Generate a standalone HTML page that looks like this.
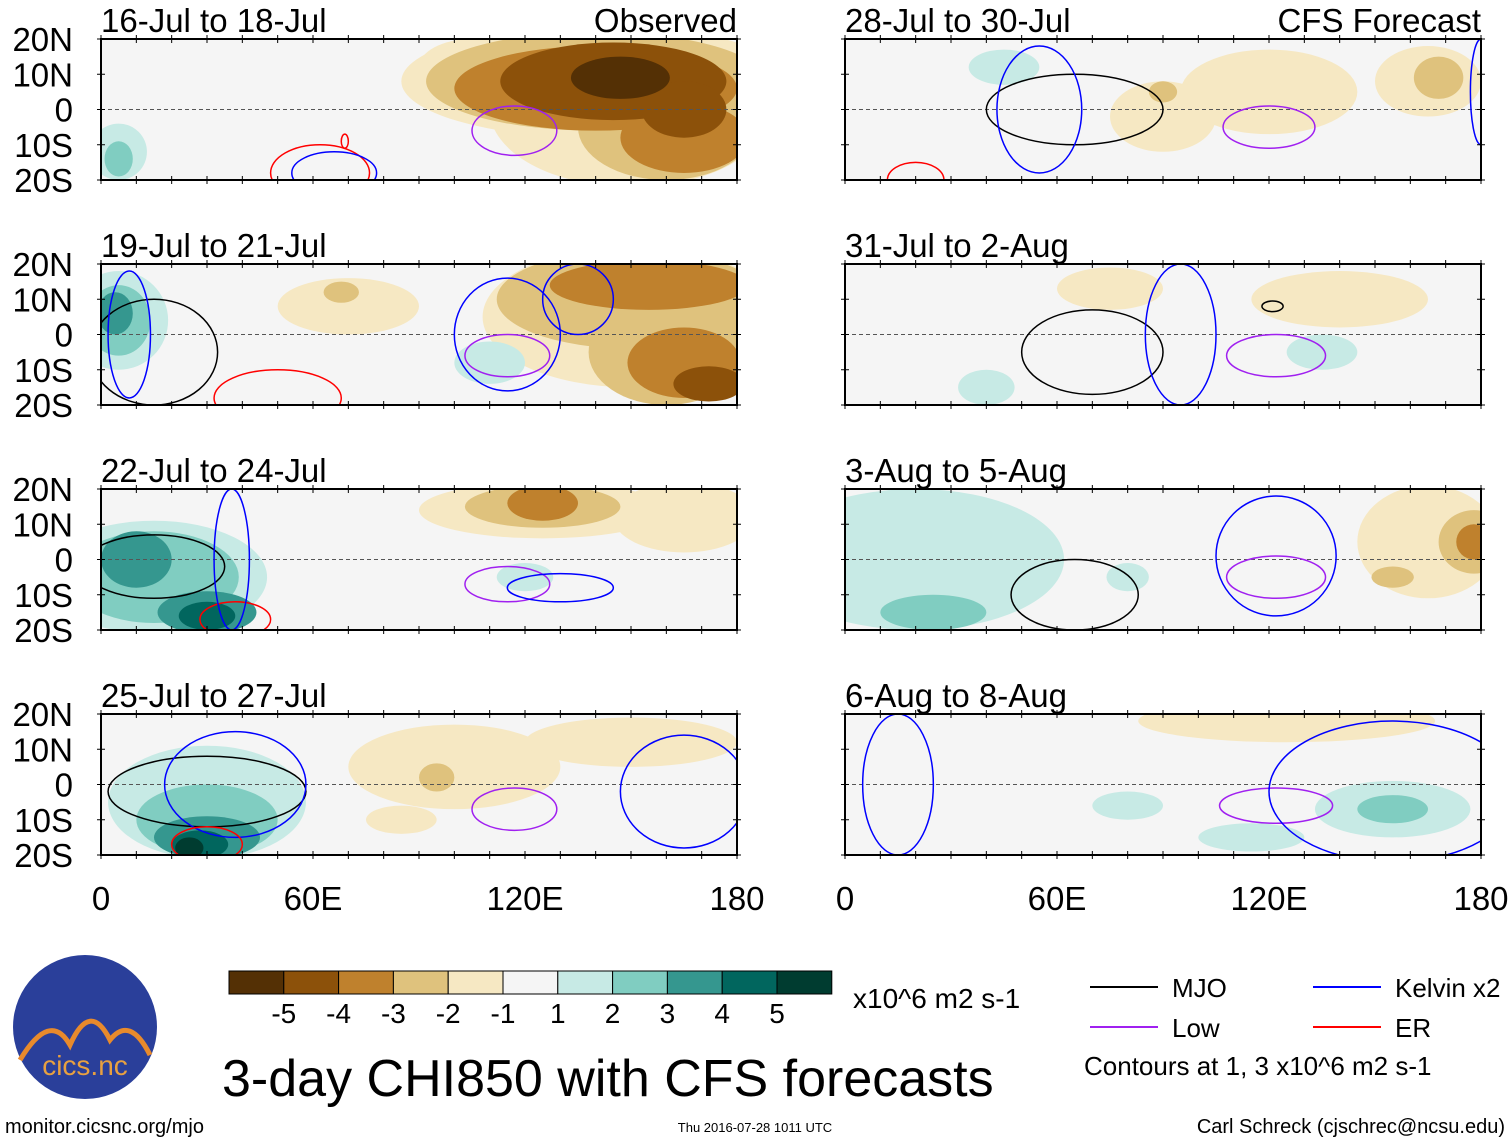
<!DOCTYPE html>
<html><head><meta charset="utf-8"><style>
body{margin:0;background:#fff;font-family:"Liberation Sans",sans-serif}
svg text{font-family:"Liberation Sans",sans-serif}
</style></head><body>
<svg id="chart" width="1510" height="1142" xmlns="http://www.w3.org/2000/svg"></svg>
<script>
const titles=["16-Jul to 18-Jul","28-Jul to 30-Jul","19-Jul to 21-Jul","31-Jul to 2-Aug","22-Jul to 24-Jul","3-Aug to 5-Aug","25-Jul to 27-Jul","6-Aug to 8-Aug"];
const latTicks=["20N","10N","0","10S","20S"];
const lonTicks=["0","60E","120E","180"];
const levelLabels=["-5","-4","-3","-2","-1","1","2","3","4","5"];
// blobs per panel: [lon, lat, rlon, rlat, level]
const blobs0=[[140,8,55,16,-1],[150,0,40,22,-1],[140,8,48,14,-2],[160,-5,25,15,-2],[140,6,40,12,-3],[165,-8,18,10,-3],[145,8,32,11,-4],[165,0,12,8,-4],[147,9,14,6,-5],[105,12,15,8,-1],[5,-12,8,8,1],[5,-14,4,5,2]];
const blobs1=[[120,5,25,12,-1],[165,8,15,10,-1],[168,9,7,6,-2],[90,-2,15,10,-1],[45,12,10,5,1],[90,5,4,3,-2]];
const blobs2=[[150,5,42,20,-1],[150,10,38,14,-2],[160,-5,22,15,-2],[155,14,28,7,-3],[165,-8,16,10,-3],[172,-14,10,5,-4],[70,8,20,8,-1],[68,12,5,3,-2],[5,4,14,14,1],[5,4,9,10,2],[4,6,5,6,3],[110,-8,10,6,1]];
const blobs3=[[75,13,15,6,-1],[140,10,25,8,-1],[135,-5,10,5,1],[40,-15,8,5,1]];
const blobs4=[[15,-5,32,16,1],[15,-5,24,13,2],[10,0,10,8,3],[30,-15,14,6,3],[30,-16,8,4,4],[125,14,35,8,-1],[125,15,22,6,-2],[125,16,10,5,-3],[165,12,20,10,-1],[120,-5,8,4,1]];
const blobs5=[[20,0,42,20,1],[25,-15,15,5,2],[165,5,20,16,-1],[178,5,10,9,-2],[178,5,5,5,-3],[155,-5,6,3,-2],[80,-5,6,4,1]];
const blobs6=[[30,-5,28,16,1],[30,-10,20,10,2],[30,-15,15,6,3],[28,-17,8,4,4],[25,-18,4,3,5],[100,5,30,12,-1],[95,2,5,4,-2],[150,12,30,7,-1],[85,-10,10,4,-1]];
const blobs7=[[155,-7,22,8,1],[155,-7,10,4,2],[125,18,42,6,-1],[80,-6,10,4,1],[115,-15,15,4,1]];
const allBlobs=[blobs0,blobs1,blobs2,blobs3,blobs4,blobs5,blobs6,blobs7];
// contours per panel: [type, lon, lat, rlon, rlat]
const cont0=[["low",117,-6,12,7],["er",62,-18,14,8],["kelvin",66,-18,12,6],["er",69,-9,1,2]];
const cont1=[["low",120,-5,13,6],["mjo",65,0,25,10],["kelvin",55,0,12,18],["er",20,-20,8,5],["kelvin",180,5,3,15]];
const cont2=[["low",115,-6,12,6],["kelvin",115,0,15,16],["kelvin",135,10,10,10],["mjo",15,-5,18,15],["er",50,-18,18,8],["kelvin",8,0,6,18]];
const cont3=[["low",122,-6,14,6],["mjo",70,-5,20,12],["kelvin",95,0,10,20],["mjo",121,8,3,1.5]];
const cont4=[["low",115,-7,12,5],["kelvin",130,-8,15,4],["mjo",15,-2,20,9],["er",38,-17,10,5],["kelvin",37,0,5,20]];
const cont5=[["low",122,-5,14,6],["kelvin",122,1,17,17],["mjo",65,-10,18,10]];
const cont6=[["low",117,-7,12,6],["kelvin",165,-2,18,16],["mjo",30,-2,28,10],["kelvin",38,0,20,15],["er",30,-17,10,5]];
const cont7=[["low",122,-6,16,5],["kelvin",155,-2,35,20],["kelvin",15,0,10,20]];
const allCont=[cont0,cont1,cont2,cont3,cont4,cont5,cont6,cont7];
const colors={"-5":"#543005","-4":"#8c510a","-3":"#bf812d","-2":"#dfc27d","-1":"#f6e8c3","1":"#c7eae5","2":"#80cdc1","3":"#35978f","4":"#01665e","5":"#003c30"};
const lineColors={mjo:"#000",kelvin:"#0000ff",low:"#a020f0",er:"#ff0000"};
const NS="http://www.w3.org/2000/svg";
const svg=document.getElementById('chart');
function mk(tag,attrs,parent){const e=document.createElementNS(NS,tag);for(const k in attrs)e.setAttribute(k,attrs[k]);(parent||svg).appendChild(e);return e;}
const colX=[101,845],W=636,rowY=[39,264,489,714],H=141;
for(let p=0;p<8;p++){
  const x0=colX[p%2],y0=rowY[Math.floor(p/2)];
  const xs=l=>x0+l/180*W, ys=la=>y0+(20-la)/40*H;
  const g=mk('g',{});
  
  
  const cid='clip'+p;
  const cp=mk('clipPath',{id:cid},g);mk('rect',{x:x0,y:y0,width:W,height:H},cp);
  mk('rect',{x:x0,y:y0,width:W,height:H,fill:'#f5f5f5'},g);
  const inner=mk('g',{'clip-path':'url(#'+cid+')'},g);
  const bl=allBlobs[p].slice().sort((a,b)=>Math.abs(a[4])-Math.abs(b[4]));
  bl.forEach(b=>{const e=mk('ellipse',{cx:xs(b[0]),cy:ys(b[1]),rx:b[2]/180*W,ry:b[3]/40*H,fill:colors[b[4]]},inner);
    
    });
  mk('line',{x1:x0,x2:x0+W,y1:ys(0),y2:ys(0),stroke:'#555','stroke-dasharray':'4,3','stroke-width':1},inner);
  allCont[p].forEach(c=>{const e=mk('ellipse',{cx:xs(c[1]),cy:ys(c[2]),rx:c[3]/180*W,ry:c[4]/40*H,fill:'none',stroke:lineColors[c[0]],'stroke-width':1.5},inner);
    
    });
  mk('rect',{x:x0,y:y0,width:W,height:H,fill:'none',stroke:'#000','stroke-width':2},g);
  for(let l=0;l<=180;l+=10){mk('line',{x1:xs(l),x2:xs(l),y1:y0-4,y2:y0+4,stroke:'#000','stroke-width':1},g);mk('line',{x1:xs(l),x2:xs(l),y1:y0+H-4,y2:y0+H+4,stroke:'#000','stroke-width':1},g);}
  for(let la=-20;la<=20;la+=10){mk('line',{x1:x0-4,x2:x0+4,y1:ys(la),y2:ys(la),stroke:'#000'},g);mk('line',{x1:x0+W-4,x2:x0+W+4,y1:ys(la),y2:ys(la),stroke:'#000'},g);}
  const t=mk('text',{x:x0,y:y0-7,'font-size':33},g);t.textContent=titles[p];
  
  
  if(p%2==0){latTicks.forEach((s,i)=>{const tt=mk('text',{x:73,y:y0+i*H/4+12,'font-size':33,'text-anchor':'end'},g);tt.textContent=s;});}
  if(p==0){const o=mk('text',{x:x0+W,y:y0-7,'font-size':33,'text-anchor':'end'},g);o.textContent='Observed';}
  if(p==1){const o=mk('text',{x:x0+W,y:y0-7,'font-size':33,'text-anchor':'end'},g);o.textContent='CFS Forecast';}
}
[0,1].forEach(c=>lonTicks.forEach((s,i)=>{const t=mk('text',{x:colX[c]+i*W/3,y:910,'font-size':33,'text-anchor':'middle'});t.textContent=s;
  
  }));
const order=["-5","-4","-3","-2","-1","0","1","2","3","4","5"];
const cb=mk('g',{});
order.forEach((k,i)=>mk('rect',{x:229+i*54.8,y:971,width:54.8,height:23,fill:k=="0"?"#f5f5f5":colors[k],stroke:'#000','stroke-width':1},cb));
levelLabels.forEach((s,i)=>{const t=mk('text',{x:229+(i+1)*54.8,y:1023,'font-size':28,'text-anchor':'middle'},cb);t.textContent=s;});
const u=mk('text',{x:853,y:1008,'font-size':28});u.textContent='x10^6 m2 s-1';
const leg=[["MJO","mjo",1090,987],["Kelvin x2","kelvin",1313,987],["Low","low",1090,1027],["ER","er",1313,1027]];
leg.forEach(l=>{const g=mk('g',{});
  mk('line',{x1:l[2],x2:l[2]+68,y1:l[3],y2:l[3],stroke:lineColors[l[1]],'stroke-width':2},g);
  const t=mk('text',{x:l[2]+82,y:l[3]+10,'font-size':26},g);t.textContent=l[0];});
let t=mk('text',{x:1084,y:1075,'font-size':26});t.textContent='Contours at 1, 3 x10^6 m2 s-1';
t=mk('text',{x:222,y:1096,'font-size':52});t.textContent='3-day CHI850 with CFS forecasts';
t=mk('text',{x:5,y:1133,'font-size':20});t.textContent='monitor.cicsnc.org/mjo';
t=mk('text',{x:755,y:1132,'font-size':13,'text-anchor':'middle'});t.textContent='Thu 2016-07-28 1011 UTC';
t=mk('text',{x:1505,y:1133,'font-size':20,'text-anchor':'end'});t.textContent='Carl Schreck (cjschrec@ncsu.edu)';
const logo=mk('g',{});
mk('circle',{cx:85,cy:1027,r:72,fill:'#2a3f9a'},logo);
mk('path',{d:'M20,1060 Q50,1010 70,1045 Q90,1000 110,1040 Q130,1015 150,1055',fill:'none',stroke:'#e88a2c','stroke-width':5},logo);
t=mk('text',{x:85,y:1075,'font-size':28,fill:'#e8a040','text-anchor':'middle'},logo);t.textContent='cics.nc';
</script>
</body></html>
